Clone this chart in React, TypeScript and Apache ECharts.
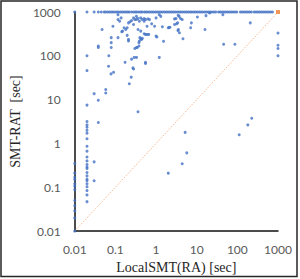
import React, { useEffect, useRef } from "react";
import * as echarts from "echarts";

// Tick labels (log decades)
const xTickLabels = ["0.01", "0.1", "1", "10", "100", "1000"];
const yTickLabels = ["0.01", "0.1", "1", "10", "100", "1000"];

// SMT-RAT timeout value (row at the top)
const TIMEOUT_Y = 1000;
// x values of instances where SMT-RAT hit the timeout
const timeoutRowX = [
  0.01, 0.02, 0.03, 0.038, 0.045, 0.053, 0.058, 0.065, 0.072, 0.08, 0.088, 0.098,
  0.109, 0.12, 0.134, 0.148, 0.164, 0.182, 0.2, 0.22, 0.25, 0.28, 0.31, 0.34, 0.38,
  0.42, 0.46, 0.52, 0.57, 0.63, 0.7, 0.78, 0.86, 0.96, 1.06, 1.18, 1.31, 1.45, 1.61,
  1.79, 1.98, 2.2, 2.44, 2.7, 3.0, 3.33, 3.7, 4.1, 4.55, 5.05, 5.6, 6.2, 6.9, 7.6,
  8.5, 9.4, 10.4, 11.6, 12.8, 14.2, 15.8, 17.5, 19.4, 21.5, 23.9, 26.5, 29.4, 34.4,
  38.1, 42.3, 46.9, 52, 57.7, 64, 71, 78.7, 87.3, 96.8, 119, 132, 147, 163, 181, 200,
  222, 260, 288, 320, 355, 393, 436, 484, 537, 596, 661, 733,
];
// LocalSMT(RA) timeout column (x = 1000)
const TIMEOUT_X = 1000;
const timeoutColY = [330, 174, 147, 100];
// column at x = 0.01
const col001Y = [0.35, 0.21, 0.17, 0.15, 0.12, 0.105, 0.088, 0.05, 0.038, 0.029, 0.02, 0.01];
// column at x = 0.02
const col002Y = [
  100, 46, 7.5, 3.16, 2.65, 2.35, 2.0, 1.72, 1.28, 0.865, 0.667, 0.49, 0.4, 0.33, 0.29,
  0.267, 0.217, 0.182, 0.153, 0.141, 0.12, 0.103, 0.084, 0.067, 0.047,
];
// remaining instances [LocalSMT(RA), SMT-RAT]
const otherPoints: [number, number][] = [
  [0.03, 13.7], [0.03, 0.38], [0.03, 0.141], [0.038, 9.7], [0.038, 3.0], [0.038, 168],
  [0.038, 155], [0.047, 399], [0.058, 17.1], [0.058, 14.2], [0.068, 58], [0.069, 100],
  [0.078, 38.7], [0.09, 42], [0.079, 260], [0.079, 200], [0.079, 155], [0.087, 474],
  [0.116, 260], [0.116, 671], [0.116, 869], [0.127, 614], [0.138, 733], [0.15, 366],
  [0.143, 355], [0.164, 436], [0.18, 399], [0.195, 293], [0.195, 436], [0.21, 218],
  [0.21, 237], [0.21, 565], [0.23, 596], [0.25, 637], [0.28, 518], [0.28, 733],
  [0.3, 671], [0.33, 795], [0.33, 671], [0.36, 707], [0.36, 399], [0.39, 614],
  [0.42, 733], [0.42, 366], [0.46, 671], [0.51, 707], [0.51, 614], [0.55, 671],
  [0.6, 474], [0.63, 696], [0.66, 308], [0.69, 671], [0.78, 537], [0.92, 474],
  [1.0, 733], [1.0, 282], [1.05, 268], [1.2, 869], [1.31, 795], [1.43, 459], [1.53, 214],
  [2.0, 436], [2.1, 443], [2.2, 449], [2.85, 518], [2.85, 696], [3.1, 707], [3.2, 537],
  [3.4, 565], [3.45, 379], [3.5, 838], [3.55, 399], [3.7, 795], [3.75, 337], [4.0, 707],
  [4.4, 671], [4.6, 246], [7.4, 565], [7.1, 436], [10.4, 771], [16.9, 826], [20.8, 950],
  [44, 869], [208, 565], [16, 399], [46, 184], [87, 184],
  [0.173, 71], [0.25, 84], [0.33, 92], [0.55, 71], [1.2, 92], [0.33, 155], [0.38, 168],
  [0.39, 218], [0.42, 246], [0.29, 92], [0.3, 147], [0.345, 155], [0.4, 260], [0.44, 237],
  [0.46, 250], [0.51, 320], [0.55, 308], [0.6, 308], [0.38, 200], [0.55, 67], [0.27, 53],
  [0.28, 50], [0.245, 32.6], [0.22, 23], [0.36, 5.3],
  [226, 3.75], [181, 2.65], [111, 1.58], [5.2, 1.79], [5.7, 0.61], [4.4, 0.345], [2.0, 0.21],
];
// y = x reference line
const diagX = [0.01, 1000];
const diagY = [0.01, 1000];

const labelFor = (labels: string[]) => (v: number) => {
  const e = Math.round(Math.log10(v));
  return labels[e + 2] ?? "";
};

export default function App() {
  const ref = useRef<HTMLDivElement>(null);
  useEffect(() => {
    if (!ref.current) return;
    const chart = echarts.init(ref.current, undefined, { renderer: "svg" });
    const blue: [number, number][] = [
      ...timeoutRowX.map((x) => [x, TIMEOUT_Y] as [number, number]),
      ...timeoutColY.map((y) => [TIMEOUT_X, y] as [number, number]),
      ...col001Y.map((y) => [0.01, y] as [number, number]),
      ...col002Y.map((y) => [0.02, y] as [number, number]),
      ...otherPoints,
    ];
    const diag = diagX.map((x, i) => [x, diagY[i]]);
    const tickLabel = { color: "#595959", fontFamily: "Lato", fontSize: 12 };
    const nameStyle = { color: "#262626", fontFamily: "Liberation Serif", fontSize: 14 };
    chart.setOption({
      animation: false,
      grid: { left: 56, right: 22, top: 12, bottom: 44.5 },
      xAxis: {
        type: "log",
        logBase: 10,
        min: 0.01,
        max: 1000,
        name: "LocalSMT(RA) [sec]",
        nameLocation: "middle",
        nameGap: 25,
        nameTextStyle: nameStyle,
        axisLine: { show: true, onZero: false, lineStyle: { color: "#111", width: 1.5 } },
        axisTick: { show: false },
        splitLine: { show: false },
        minorTick: { show: false },
        axisLabel: { ...tickLabel, margin: 12, formatter: labelFor(xTickLabels) },
      },
      yAxis: {
        type: "log",
        logBase: 10,
        min: 0.01,
        max: 1000,
        name: "SMT-RAT  [sec]",
        nameLocation: "middle",
        nameGap: 37,
        nameTextStyle: nameStyle,
        axisLine: { show: true, onZero: false, lineStyle: { color: "#111", width: 1.5 } },
        axisTick: { show: false },
        splitLine: { show: false },
        axisLabel: { ...tickLabel, margin: 14, formatter: labelFor(yTickLabels) },
      },
      graphic: [
        {
          type: "rect",
          shape: { x: 1, y: 1, width: 296, height: 275.5 },
          style: { fill: "none", stroke: "#262626", lineWidth: 1.5 },
          silent: true,
        },
      ],
      series: [
        {
          type: "line",
          data: diag,
          symbol: "none",
          lineStyle: { color: "#F4A672", width: 1, type: [1, 1.5] },
          z: 1,
        },
        {
          type: "scatter",
          data: [diag[1]],
          symbol: "rect",
          symbolSize: 4,
          itemStyle: { color: "#ED7D31" },
          z: 3,
        },
        {
          type: "scatter",
          data: blue,
          symbol: "circle",
          symbolSize: 3,
          itemStyle: { color: "#4472C4" },
          z: 2,
        },
      ],
    });
    return () => chart.dispose();
  }, []);
  return (
    <div
      ref={ref}
      style={{ position: "fixed", left: 0, top: 0, width: 300, height: 279, background: "#fff" }}
    />
  );
}
